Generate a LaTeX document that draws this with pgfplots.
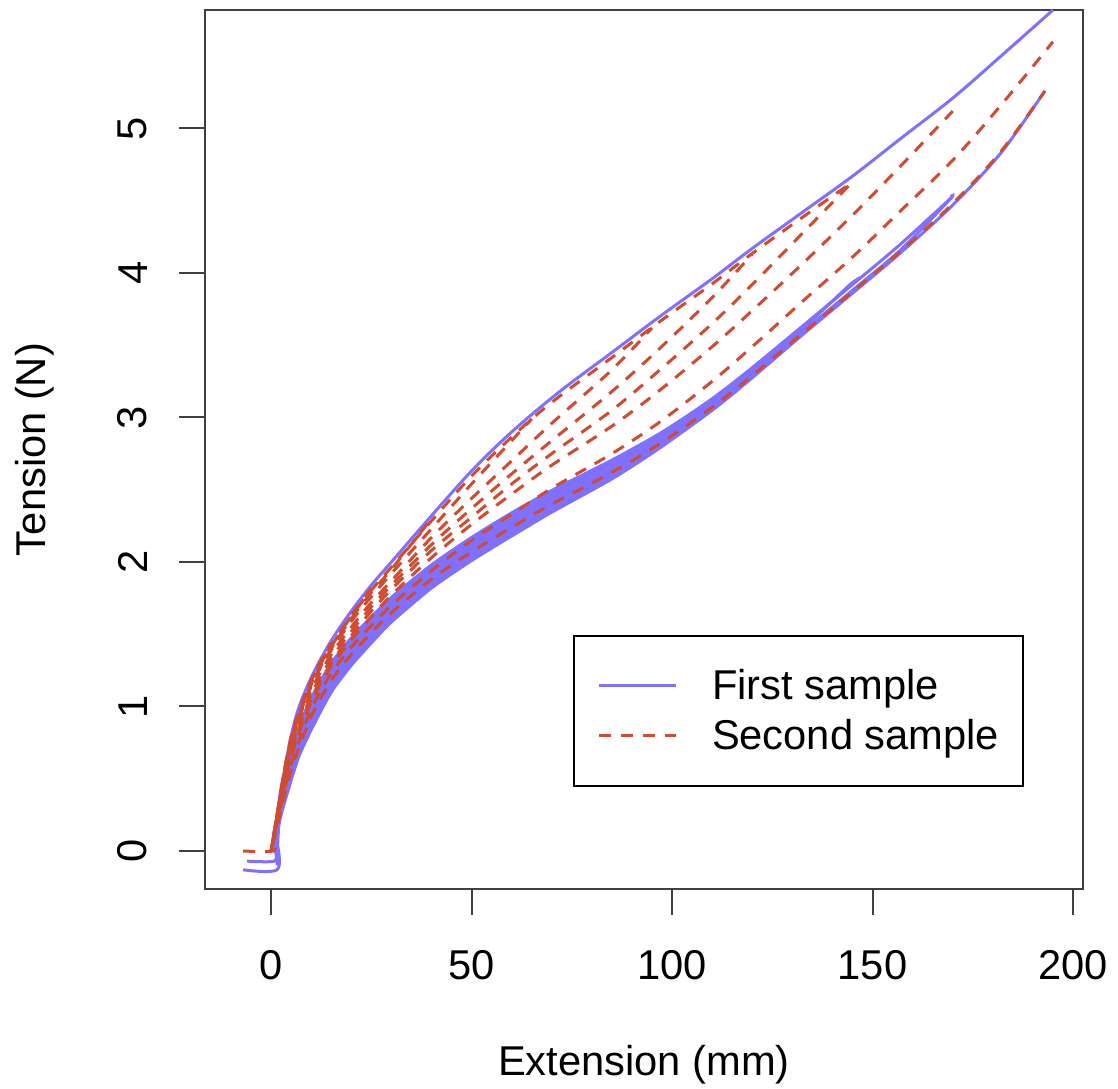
\documentclass[border=0pt]{standalone}
\usepackage{fontspec}
\setmainfont{Liberation Sans}
\usepackage{pgfplots}
\pgfplotsset{compat=1.18}
\definecolor{bluec}{RGB}{128,112,255}
\definecolor{redc}{RGB}{208,75,48}
\newcommand{\fsz}{\fontsize{12.5}{15}\selectfont}
\begin{document}
\begin{tikzpicture}
\useasboundingbox (-61.5pt,-60pt) rectangle (273.9pt,266.7pt);
\begin{axis}[
  scale only axis, width=263.4pt, height=263.7pt,
  xmin=-16.5, xmax=202.5, ymin=-0.263, ymax=5.82,
  axis line style={draw=black!75, line width=0.6pt},
  xtick={0,50,100,150,200}, ytick={0,1,2,3,4,5},
  tick align=outside, xtick pos=bottom, ytick pos=left, major tick length=7.8pt,
  tick style={draw=black!75, line width=0.6pt},
  /pgf/number format/assume math mode=true,
  tick label style={font=\fsz},
  xticklabel style={anchor=north, yshift=-7.1pt},
  yticklabel style={rotate=90, anchor=south, yshift=6pt},
  xlabel={Extension (mm)}, ylabel={Tension (N)},
  xlabel style={at={(axis description cs:0.5,-0.2)}, anchor=center, font=\fsz},
  ylabel style={at={(axis description cs:-0.1937,0.5)}, anchor=center, font=\fsz},
  legend cell align=left,
  legend image code/.code={\draw[#1] (3.5pt,0pt) -- (26.5pt,0pt);},
  legend style={at={(axis cs:75.3,1.496)}, anchor=north west, draw=black, line width=0.6pt,
    font=\fsz, inner xsep=7pt, inner ysep=8.5pt, row sep=2pt, column sep=10.5pt,
    nodes={inner sep=0pt, text height=10.5pt, text depth=2.5pt}},
  bl/.style={color=bluec, line width=0.9pt, smooth, tension=0.55},
  rd/.style={color=redc, line width=0.9pt, dash pattern=on 3.6pt off 3pt, smooth, tension=0.55},
]
% ---- first sample (blue) ----
\addplot[bl] coordinates {(1,0) (2,0.35) (3.5,0.58) (5,0.8) (7,1.0) (10,1.2) (13,1.36) (16,1.5) (20,1.66) (25,1.84) (30,2.0) (40,2.32) (50,2.63) (60,2.9) (72,3.18) (85,3.45) (97,3.70) (110,3.96) (120,4.17) (132,4.41) (145,4.67) (157,4.93) (170,5.21) (182,5.5) (195,5.82)};
\addlegendentry{First sample}
\addplot[bl, forget plot, smooth=false] coordinates {(-7,-0.13) (1.5,-0.13) (1.5,0.05)};
\addplot[bl, forget plot, smooth=false] coordinates {(-6,-0.07) (0.8,-0.07) (1,0)};
% dense band of repeated cycles
\addplot[bl, forget plot, fill=bluec, tension=0.4] coordinates {(1.5,-0.1) (2,0.19) (5,0.49) (7,0.66) (10,0.84) (15,1.10) (20,1.285) (25,1.44) (30,1.585) (40,1.82) (50,2.01) (60,2.18) (70,2.345) (85,2.575) (97,2.79) (110,3.055) (120,3.29) (120,3.33) (110,3.125) (97,2.89) (85,2.705) (70,2.495) (60,2.34) (50,2.17) (40,1.98) (30,1.755) (25,1.62) (20,1.475) (15,1.30) (10,1.06) (7,0.86) (5,0.67) (2,0.31) (1.5,0.1) (1.5,-0.1)};
\addplot[bl, forget plot] coordinates {(60,2.20) (70,2.365) (85,2.59) (97,2.795) (110,3.05) (120,3.275) (132,3.56) (145,3.86) (157,4.14) (170,4.47) (182,4.83) (193,5.26)};
\addplot[bl, forget plot] coordinates {(60,2.24) (70,2.402) (85,2.623) (97,2.825) (110,3.077) (120,3.298) (132,3.58) (145,3.88) (157,4.16) (169,4.50) (169.5,4.53)};
\addplot[bl, forget plot] coordinates {(60,2.28) (70,2.438) (85,2.657) (97,2.855) (110,3.103) (120,3.322) (132,3.60) (144,3.91) (145,3.93)};
\addplot[bl, forget plot] coordinates {(60,2.32) (70,2.475) (85,2.69) (97,2.885) (110,3.13) (120,3.345) (132,3.62) (145,3.92) (157,4.20) (170,4.53)};
% ---- second sample (red) ----
\addplot[rd] coordinates {(0,0) (2,0.26) (5,0.60) (10,0.98) (15,1.23) (20,1.41) (25,1.56) (30,1.70) (40,1.94) (50,2.15) (60,2.33) (70,2.51) (85,2.75) (97,2.97) (110,3.25) (120,3.49) (132,3.79) (145,4.11) (157,4.43) (170,4.78) (182,5.16) (195,5.60)};
\addlegendentry{Second sample}
\addplot[rd, forget plot, smooth=false] coordinates {(-7,0) (0.5,0) (0.6,0.06)};
\addplot[rd, forget plot, dash phase=1.1pt] coordinates {(0,0) (2,0.34) (5,0.79) (10,1.18) (15,1.415) (20,1.625) (25,1.805) (30,1.965) (40,2.285) (50,2.595) (60,2.865) (70,3.105) (85,3.415) (97,3.665) (110,3.925) (120,4.135) (132,4.375) (145,4.63)};
\addplot[rd, forget plot, dash phase=2.2pt] coordinates {(0,0) (2,0.34) (5,0.77) (10,1.18) (15,1.44)};
\addplot[rd, forget plot, dash phase=3.3pt] coordinates {(0,0) (2,0.33) (5,0.77) (10,1.16) (15,1.42) (20,1.63) (25,1.82)};
\addplot[rd, forget plot, dash phase=4.4pt] coordinates {(0,0) (2,0.33) (5,0.76) (10,1.15) (15,1.40) (20,1.61) (25,1.79) (30,1.95) (40,2.30)};
\addplot[rd, forget plot, dash phase=5.5pt] coordinates {(0,0) (2,0.32) (5,0.74) (10,1.14) (15,1.39) (20,1.59) (25,1.76) (30,1.92) (40,2.23) (50,2.54) (60,2.84) (65,2.99)};
\addplot[rd, forget plot, dash phase=0.6pt] coordinates {(0,0) (2,0.31) (5,0.72) (10,1.11) (15,1.36) (20,1.55) (25,1.72) (30,1.87) (40,2.17) (50,2.44) (60,2.70) (70,2.96) (85,3.33) (95,3.62)};
\addplot[rd, forget plot, dash phase=1.7pt] coordinates {(0,0) (2,0.30) (5,0.69) (10,1.08) (15,1.33) (20,1.52) (25,1.69) (30,1.84) (40,2.12) (50,2.37) (60,2.61) (70,2.84) (85,3.18) (97,3.48) (110,3.83) (120,4.13)};
\addplot[rd, forget plot, dash phase=2.8pt] coordinates {(0,0) (2,0.29) (5,0.67) (10,1.05) (15,1.30) (20,1.49) (25,1.66) (30,1.81) (40,2.08) (50,2.31) (60,2.54) (70,2.75) (85,3.05) (97,3.33) (110,3.65) (120,3.92) (132,4.26) (145,4.63)};
\addplot[rd, forget plot, dash phase=3.9pt] coordinates {(0,0) (2,0.28) (5,0.65) (10,1.03) (15,1.28) (20,1.46) (25,1.62) (30,1.77) (40,2.03) (50,2.26) (60,2.47) (70,2.67) (85,2.94) (97,3.19) (110,3.49) (120,3.74) (132,4.05) (145,4.40) (157,4.74) (170,5.12)};
\addplot[rd, forget plot, dash phase=4.7pt] coordinates {(0,0) (2,0.23) (5,0.56) (10,0.93) (15,1.18) (20,1.36) (25,1.51) (30,1.65) (40,1.88) (50,2.07) (60,2.24) (70,2.40) (85,2.62) (97,2.82) (110,3.07) (120,3.29) (132,3.57) (145,3.87) (157,4.15) (170,4.48) (182,4.84) (193,5.26)};
\end{axis}
\end{tikzpicture}
\end{document}
